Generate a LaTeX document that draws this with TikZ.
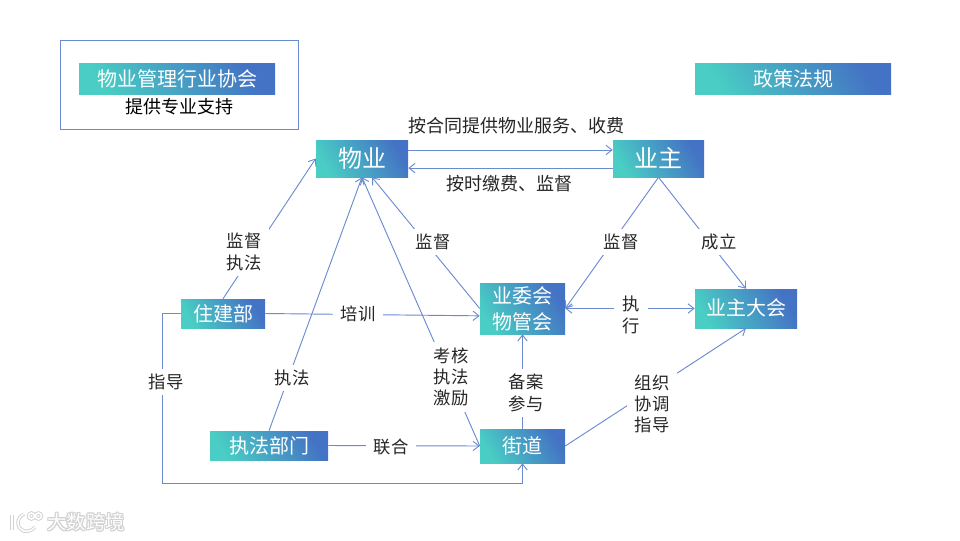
\documentclass[tikz,border=0pt]{standalone}
\usepackage{fontspec}
\setmainfont{Noto Sans CJK SC}
\usetikzlibrary{arrows.meta, positioning}
\definecolor{boxteal}{HTML}{49CDC4}
\definecolor{boxblue}{HTML}{4472C4}
\definecolor{linkblue}{HTML}{6A8BCF}
\definecolor{labelgray}{HTML}{262626}
\tikzset{
    >={Straight Barb[length=4.5pt,width=7pt]},
    gradbox/.style={inner sep=0pt, text=white, align=center, shading=axis, left color=boxblue, right color=boxteal, shading angle=-60, font=\fontsize{15}{19.5}\selectfont},
    bigbox/.style={gradbox, font=\fontsize{18}{22}\selectfont},
    flow/.style={draw=linkblue, line width=0.7pt},
    lbl/.style={fill=white, inner xsep=6pt, inner ysep=4pt, align=center, text=labelgray, font=\fontsize{13}{16}\selectfont},
    widelbl/.style={lbl, font=\fontsize{13.5}{16}\selectfont},
}
\begin{document}
\begin{tikzpicture}[x=0.75pt, y=-0.75pt]
    \useasboundingbox (0,0) rectangle (960,540);
    % outer frame and the two boxes on top
    \node [draw=linkblue, line width=0.7pt, minimum width=178.5pt, minimum height=66.75pt](frame) at (179,84.5) {};
    \node [gradbox, minimum width=147pt, minimum height=23.25pt](xiehui) at (177,79) {物业管理行业协会};
    \node [inner sep=0pt, text=black, font=\fontsize{13.5}{16}\selectfont](zhichi) at (179,107) {提供专业支持};
    \node [gradbox, minimum width=147pt, minimum height=23.25pt](zhengce) at (793,78.5) {政策法规};
    % main boxes
    \node [bigbox, minimum width=69pt, minimum height=27.75pt](wuye) at (362,158.5) {物业};
    \node [bigbox, minimum width=68.25pt, minimum height=27.75pt](yezhu) at (658.5,158.5) {业主};
    \node [gradbox, minimum width=63.75pt, minimum height=38.25pt](yewei) at (522.5,308.5) {\raisebox{-0.75pt}{业委会}\\\raisebox{-0.75pt}{物管会}};
    \node [gradbox, minimum width=76.5pt, minimum height=29.25pt](dahui) at (746,308.5) {\raisebox{2pt}{业主大会}};
    \node [gradbox, minimum width=63pt, minimum height=21.75pt](zhujian) at (223,313.5) {\raisebox{-1.5pt}{住建部}};
    \node [gradbox, minimum width=88.5pt, minimum height=21.75pt](zhifa) at (269,445.5) {\raisebox{-1.5pt}{执法部门}};
    \node [gradbox, minimum width=63.75pt, minimum height=25.5pt](jiedao) at (522.5,446) {街道};
    \coordinate (guide) at (162,483);
    % connectors
    \draw [flow, ->] ([yshift=6.4pt]wuye.east)--([yshift=6.4pt]yezhu.west);
    \draw [flow, ->] ([yshift=-7.2pt]yezhu.west)--([yshift=-7.2pt]wuye.east);
    \draw [flow, ->] (zhujian.north)--(wuye.west);
    \draw [flow, ->] (zhifa.north)--(wuye.south);
    \draw [flow, ->] (jiedao.west)--(wuye.south);
    \draw [flow, ->] (yewei.west)--([xshift=7.5pt]wuye.south);
    \draw [flow, ->] (yezhu.south)--(yewei.east);
    \draw [flow, ->] (yezhu.south)--(dahui.north);
    \draw [flow, ->] (zhujian.east)--([yshift=-5.5pt]yewei.west);
    \draw [flow, <->] (yewei.east)--(dahui.west);
    \draw [flow, ->] (jiedao.north)--(yewei.south);
    \draw [flow, ->] (jiedao.east)--(dahui.south);
    \draw [flow, ->] (zhifa.east)--(jiedao.west);
    \draw [flow, ->] (zhujian.west) -| (guide) -| (jiedao.south);
    % labels
    \node [widelbl](lbFuwu) at (516.5,126) {按合同提供物业服务、收费};
    \node [widelbl](lbJiaofei) at (509,184) {按时缴费、监督};
    \node [lbl](lbJianduA) at (244,252) {监督\\执法};
    \node [lbl](lbZhifa) at (292,378) {执法};
    \node [lbl](lbKaohe) at (451,377) {考核\\执法\\激励};
    \node [lbl](lbJianduB) at (433,242) {监督};
    \node [lbl](lbJianduC) at (621,242) {监督};
    \node [lbl](lbChengli) at (719,242) {成立};
    \node [lbl](lbPeixun) at (358,314) {培训};
    \node [lbl](lbZhixing) at (631,315) {执\\行};
    \node [lbl](lbBeian) at (526,393) {备案\\参与};
    \node [lbl](lbZuzhi) at (652,404) {组织\\协调\\指导};
    \node [lbl](lbLianhe) at (391,447) {联合};
    \node [lbl](lbZhidao) at (166,382) {指导};
    % watermark
    \foreach \dx/\dy in {-1/0, 1/0, 0/-1, 0/1, -1/-1, 1/1, -1/1, 1/-1}
        \node [inner sep=0pt, text=black!18, font=\fontsize{14.5}{16}\selectfont] at (86+\dx,522+\dy) {大数跨境};
    \node [inner sep=0pt, text=white, font=\fontsize{14.5}{16}\selectfont](mark) at (86,522) {大数跨境};
    \foreach \col/\wid in {black!18/2.6pt, white/1.2pt}{
        \draw [\col, line width=\wid] (12,515)--(12,530);
        \draw [\col, line width=\wid] (24,514) .. controls (16,518) and (16,528) .. (24,531) .. controls (28,532) and (33,530) .. (35,527);
        \draw [\col, line width=\wid] (31.5,516) circle (3);
        \draw [\col, line width=\wid] (38.5,516) circle (3);
    }
\end{tikzpicture}
\end{document}
